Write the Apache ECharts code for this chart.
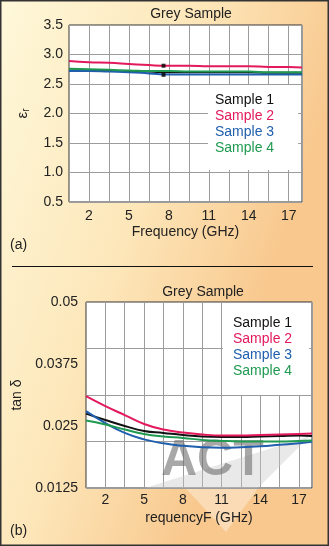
<!DOCTYPE html>
<html>
<head>
<meta charset="utf-8">
<script src="https://cdn.jsdelivr.net/npm/echarts@6/dist/echarts.min.js"></script>
<style>
  html, body { margin: 0; padding: 0; }
  #chart { width: 329px; height: 546px; }
</style>
</head>
<body>
<div id="chart"></div>
<script>
// Frequency sample points (GHz), shared by both panels
const freq = [0.5, 2, 3.5, 5, 6.5, 8, 9.5, 11, 12.5, 14, 15.5, 17, 18];
const freqLabels = [2, 5, 8, 11, 14, 17];
const seriesNames = ['Sample 1', 'Sample 2', 'Sample 3', 'Sample 4'];
const seriesColors = ['#111111', '#e3195b', '#1f5fad', '#1f9a50'];

// (a) relative permittivity
const epsS1 = [2.73, 2.73, 2.72, 2.72, 2.71, 2.70, 2.70, 2.70, 2.70, 2.70, 2.69, 2.69, 2.69];
const epsS2 = [2.89, 2.87, 2.86, 2.84, 2.82, 2.81, 2.81, 2.80, 2.80, 2.80, 2.79, 2.79, 2.78];
const epsS3 = [2.72, 2.72, 2.71, 2.70, 2.68, 2.66, 2.66, 2.66, 2.66, 2.66, 2.66, 2.66, 2.66];
const epsS4 = [2.76, 2.75, 2.74, 2.73, 2.72, 2.72, 2.71, 2.71, 2.71, 2.71, 2.70, 2.70, 2.70];
const epsMarkFreq = [7.6, 7.6];
const epsMarkVals = [2.81, 2.655];

// (b) loss tangent
const tanS1 = [0.0275, 0.0262, 0.0250, 0.0240, 0.0236, 0.0232, 0.0229, 0.0228, 0.0228, 0.0229, 0.0230, 0.0231, 0.0230];
const tanS2 = [0.0310, 0.0290, 0.0272, 0.0254, 0.0243, 0.0237, 0.0233, 0.0231, 0.0231, 0.0232, 0.0233, 0.0234, 0.0235];
const tanS3 = [0.0280, 0.0256, 0.0236, 0.0223, 0.0215, 0.0210, 0.0207, 0.0206, 0.0207, 0.0209, 0.0212, 0.0215, 0.0218];
const tanS4 = [0.0261, 0.0253, 0.0243, 0.0234, 0.0229, 0.0226, 0.0222, 0.0220, 0.0219, 0.0219, 0.0219, 0.0220, 0.0221];
const tanTickLabels = ['0.0125', '0.025', '0.0375', '0.05'];

const FONT = '"Liberation Sans", Arial, sans-serif';
const TXT = '#222';

const zip = (xs, ys) => xs.map((x, i) => [x, ys[i]]);

function lineSeries(name, values, idx, xIdx, yIdx) {
  return {
    type: 'line', name: name, xAxisIndex: xIdx, yAxisIndex: yIdx,
    data: zip(freq, values), smooth: true, symbol: 'none',
    lineStyle: { color: seriesColors[idx], width: 2 },
    itemStyle: { color: seriesColors[idx] }, z: 3
  };
}

function freqAxis(gridIndex, name, gap) {
  return {
    type: 'value', gridIndex: gridIndex, position: 'bottom',
    min: 0.5, max: 18, interval: 1.5,
    name: name, nameLocation: 'middle', nameGap: gap,
    nameTextStyle: { fontFamily: FONT, fontSize: 14, color: TXT },
    axisLine: { show: false }, axisTick: { show: false },
    axisLabel: {
      fontFamily: FONT, fontSize: 14, color: TXT, margin: gridIndex === 0 ? 7 : 5,
      formatter: v => freqLabels.includes(v) ? String(v) : ''
    },
    splitLine: { show: true, lineStyle: { color: '#9c9c9c', width: 1 } }
  };
}

function legendFor(box) {
  return {
    orient: 'vertical', left: box.left, top: box.top,
    padding: box.padding, backgroundColor: '#ffffff',
    itemWidth: 0, itemHeight: 16, itemGap: 0, icon: 'rect',
    selectedMode: false, z: 5,
    textStyle: { fontFamily: FONT, fontSize: 14, lineHeight: 16 },
    data: seriesNames.map((n, i) => ({ name: n, textStyle: { color: seriesColors[i] } }))
  };
}

const chart = echarts.init(document.getElementById('chart'), null, { renderer: 'canvas' });

chart.setOption({
  animation: false,
  backgroundColor: {
    type: 'linear', x: 0, y: 0, x2: 1, y2: 0.2,
    colorStops: [
      { offset: 0, color: '#fef8da' },
      { offset: 0.55, color: '#fde7ba' },
      { offset: 1, color: '#f8c88e' }
    ]
  },
  title: [
    { text: 'Grey Sample', left: 186, top: 2, textAlign: 'center',
      textStyle: { fontFamily: FONT, fontSize: 14, fontWeight: 'normal', color: TXT } },
    { text: 'Grey Sample', left: 198, top: 280, textAlign: 'center',
      textStyle: { fontFamily: FONT, fontSize: 14, fontWeight: 'normal', color: TXT } }
  ],
  grid: [
    { left: 69, top: 25, width: 233, height: 177, show: true, outerBoundsMode: 'none',
      backgroundColor: '#ffffff', borderColor: '#333', borderWidth: 1 },
    { left: 86, top: 302, width: 226, height: 186, show: true, outerBoundsMode: 'none',
      backgroundColor: '#ffffff', borderColor: '#333', borderWidth: 1 }
  ],
  legend: [
    legendFor({ left: 208, top: 85, padding: [7, 24, 14, 2] }),
    legendFor({ left: 223, top: 303, padding: [12, 17, 16, 5] })
  ],
  xAxis: [
    freqAxis(0, 'Frequency (GHz)', 23),
    freqAxis(1, 'requencyF (GHz)', 23)
  ],
  yAxis: [
    {
      type: 'value', gridIndex: 0, position: 'left', min: 0.5, max: 3.5, interval: 0.5,
      name: '{e|ε}{s|r}', nameLocation: 'middle', nameGap: 38,
      nameTextStyle: {
        color: TXT,
        rich: {
          e: { fontFamily: FONT, fontSize: 15, color: TXT },
          s: { fontFamily: FONT, fontSize: 10, color: TXT, verticalAlign: 'bottom', padding: [6, 0, 0, 0] }
        }
      },
      axisLine: { show: false }, axisTick: { show: false },
      axisLabel: { fontFamily: FONT, fontSize: 14, color: TXT, margin: 6,
        formatter: v => v.toFixed(1) },
      splitLine: { show: true, lineStyle: { color: '#9c9c9c', width: 1 } }
    },
    {
      // horizontal grid of panel (b)
      type: 'value', gridIndex: 1, position: 'left', offset: 0,
      min: 0.0125, max: 0.05, interval: 0.009375,
      axisLine: { show: false }, axisTick: { show: false }, axisLabel: { show: false },
      splitLine: { show: true, lineStyle: { color: '#9c9c9c', width: 1 } }
    },
    {
      // labelled scale of panel (b)
      type: 'value', gridIndex: 1, position: 'left', offset: 0,
      min: 0.0125, max: 0.05, interval: 0.0125,
      name: 'tan δ', nameLocation: 'middle', nameGap: 62,
      nameTextStyle: { fontFamily: FONT, fontSize: 14, color: TXT },
      axisLine: { show: false }, axisTick: { show: false },
      axisLabel: { fontFamily: FONT, fontSize: 14, color: TXT, margin: 8,
        formatter: v => tanTickLabels[Math.round((v - 0.0125) / 0.0125)] || '' },
      splitLine: { show: false }
    }
  ],
  series: [
    lineSeries(seriesNames[0], epsS1, 0, 0, 0),
    lineSeries(seriesNames[1], epsS2, 1, 0, 0),
    lineSeries(seriesNames[2], epsS3, 2, 0, 0),
    lineSeries(seriesNames[3], epsS4, 3, 0, 0),
    {
      type: 'scatter', name: 'markers', xAxisIndex: 0, yAxisIndex: 0,
      data: zip(epsMarkFreq, epsMarkVals), symbol: 'rect', symbolSize: 4,
      itemStyle: { color: '#000' }, z: 4, silent: true
    },
    lineSeries(seriesNames[0], tanS1, 0, 1, 2),
    lineSeries(seriesNames[1], tanS2, 1, 1, 2),
    lineSeries(seriesNames[2], tanS3, 2, 1, 2),
    lineSeries(seriesNames[3], tanS4, 3, 1, 2)
  ],
  graphic: [
    // outer frame
    { type: 'rect', shape: { x: 0.5, y: 0.5, width: 328, height: 545 },
      style: { fill: 'none', stroke: '#333', lineWidth: 2 }, z: 10, silent: true },
    // divider between the two panels
    { type: 'line', shape: { x1: 12, y1: 266.5, x2: 313, y2: 266.5 },
      style: { stroke: '#111', lineWidth: 1 }, z: 10, silent: true },
    { type: 'text', left: 10, top: 238,
      style: { text: '(a)', font: '14px ' + FONT, fill: TXT } },
    { type: 'text', left: 10, top: 524,
      style: { text: '(b)', font: '14px ' + FONT, fill: TXT } },
    // ACT logo watermark: pale arrow wedge (inside the plot, then below it) and lettering
    { type: 'polygon', shape: { points: [[145, 488], [310, 436], [258, 488]] },
      style: { fill: 'rgba(200,200,200,0.4)' }, z: 1, silent: true },
    { type: 'polygon', shape: { points: [[186, 488.5], [258, 488.5], [226, 532]] },
      style: { fill: 'rgba(255,255,255,0.35)' }, z: -10, silent: true },
    { type: 'text', left: 161, top: 436, z: 2, silent: true,
      style: { text: 'ACT', font: 'bold 50px ' + FONT, fill: 'rgba(110,110,110,0.6)' } }
  ]
});
</script>
</body>
</html>
